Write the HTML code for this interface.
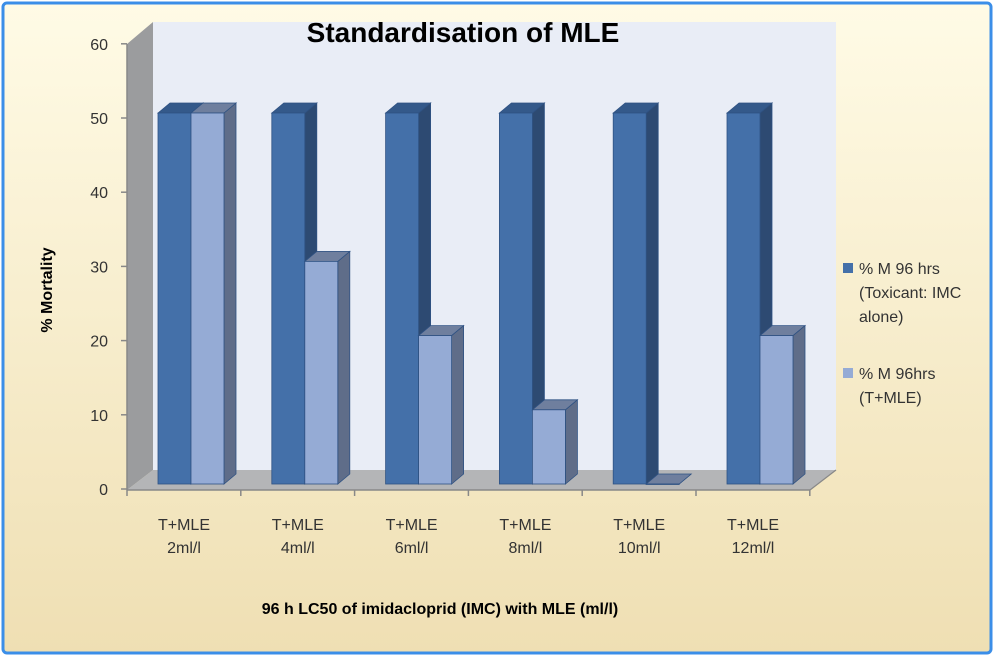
<!DOCTYPE html>
<html><head><meta charset="utf-8"><style>
body{margin:0;background:#fff;}
svg{display:block;font-family:"Liberation Sans","DejaVu Sans",sans-serif;}
</style></head><body>
<svg id="c" width="996" height="658" viewBox="0 0 996 658">
<defs>
<linearGradient id="bg" x1="0" y1="0" x2="0" y2="1">
<stop offset="0" stop-color="#fffbe6"/><stop offset="1" stop-color="#efdfb3"/></linearGradient>
</defs>
<rect x="3" y="3" width="988" height="650" rx="4" fill="url(#bg)" stroke="#3b8ee8" stroke-width="3"/>
<polygon points="153,22 836,22 836,470 153,470" fill="#e9edf6"/>
<polygon points="127,44 153,22 153,470 127,490" fill="#9b9c9e"/>
<polygon points="127,490 153,470 836,470 810,490" fill="#b4b5b7"/>
<g id="axes"></g>
<g id="bars"></g>
<text x="463" y="42" font-size="28" font-weight="bold" text-anchor="middle" fill="#000">Standardisation of MLE</text>
<text x="52" y="290" font-size="16" font-weight="bold" text-anchor="middle" transform="rotate(-90 52 290)">% Mortality</text>
<text x="440" y="614" font-size="16" font-weight="bold" text-anchor="middle">96 h LC50 of imidacloprid (IMC) with MLE  (ml/l)</text>
<g font-size="16" fill="#333">
<rect x="843" y="263" width="10" height="10" fill="#4470a9"/>
<text x="859" y="274"><tspan x="859">% M 96 hrs</tspan><tspan x="859" dy="24">(Toxicant: IMC</tspan><tspan x="859" dy="24">alone)</tspan></text>
<rect x="843" y="368" width="10" height="10" fill="#95abd5"/>
<text x="859" y="379"><tspan x="859">% M 96hrs</tspan><tspan x="859" dy="24">(T+MLE)</tspan></text>
</g>
</svg>
<script>
const categories=["2ml/l","4ml/l","6ml/l","8ml/l","10ml/l","12ml/l"];
const seriesIMC=[50,50,50,50,50,50];
const seriesMLE=[50,30,20,10,0,20];
const yTicks=[0,10,20,30,40,50,60];
const NS="http://www.w3.org/2000/svg";
function mk(t,a,p){const e=document.createElementNS(NS,t);for(const k in a)e.setAttribute(k,a[k]);p.appendChild(e);return e;}
const yAxis=v=>489-v*7.42;
const yBar=v=>484-v*7.42;
const xCat=i=>127+i*113.8;
const ax=document.getElementById('axes'),bg=document.getElementById('bars');
mk('line',{x1:127,y1:44,x2:127,y2:490,stroke:'#888','stroke-width':1.5},ax);
mk('line',{x1:127,y1:490,x2:810,y2:490,stroke:'#888','stroke-width':1.5},ax);
yTicks.forEach(v=>{
 const y=yAxis(v);
 const l=mk('line',{x1:121,y1:y,x2:127,y2:y,stroke:'#888','stroke-width':1.5},ax);
 
 
 const t=mk('text',{x:108,y:y+6,'font-size':16,'text-anchor':'end',fill:'#333'},ax);t.textContent=v;
 
 
});
mk('line',{x1:810,y1:490,x2:836,y2:470,stroke:'#888','stroke-width':1.2},ax);
for(let i=0;i<=categories.length;i++){
 const x=xCat(i);
 mk('line',{x1:x,y1:490,x2:x,y2:496,stroke:'#888','stroke-width':1.5},ax);
}
categories.forEach((c,i)=>{
 const cx=xCat(i)+57;
 const t=mk('text',{x:cx,'font-size':16,'text-anchor':'middle',fill:'#333'},ax);
 
 
 const a=mk('tspan',{x:cx,y:530},t);a.textContent='T+MLE';
 const b=mk('tspan',{x:cx,y:553},t);b.textContent=c;
});
function bar(x,v,front,top,side,name){
 const w=33,dx=12,dy=10,yb=484,yt=yBar(v);
 const g=mk('g',{},bg);
 
 
 mk('polygon',{points:`${x+w},${yt} ${x+w+dx},${yt-dy} ${x+w+dx},${yb-dy} ${x+w},${yb}`,fill:side,stroke:'#2f5283','stroke-width':0.8},g);
 mk('polygon',{points:`${x},${yt} ${x+dx},${yt-dy} ${x+w+dx},${yt-dy} ${x+w},${yt}`,fill:top,stroke:'#2f5283','stroke-width':0.8},g);
 mk('rect',{x:x,y:yt,width:w,height:Math.max(yb-yt,0.5),fill:front,stroke:'#2f5283','stroke-width':0.8},g);
}
categories.forEach((c,i)=>{
 const x=xCat(i)+31;
 bar(x,seriesIMC[i],'#4470a9','#34598a','#2d4a72','bar-imc-'+i);
 bar(x+33,seriesMLE[i],'#95abd5','#6f7f9e','#5f6d89','bar-mle-'+i);
});
</script>
</body></html>
